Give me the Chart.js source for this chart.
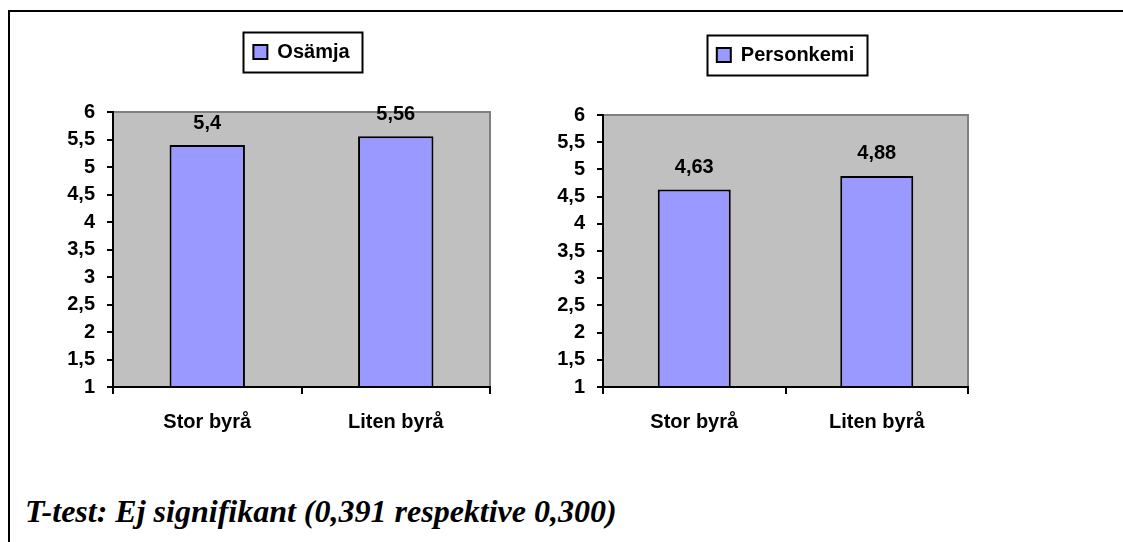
<!DOCTYPE html>
<html>
<head>
<meta charset="utf-8">
<script src="https://cdn.jsdelivr.net/npm/chart.js@4.4.1/dist/chart.umd.min.js"></script>
<style>
  html, body { margin: 0; padding: 0; background: #fff; overflow: hidden; }
  body { width: 1123px; height: 542px; position: relative; }
  .frame { position: absolute; left: 8px; top: 10px; width: 1300px; height: 700px;
           border-left: 2px solid #000; border-top: 2px solid #000; }
  .wrap { position: absolute; }
  .note { position: absolute; left: 25px; top: 493px; line-height: 1;
          font: italic bold 32px "Liberation Serif", "Times New Roman", serif; color: #000; white-space: nowrap; }
</style>
</head>
<body>
<div class="frame"></div>
<div class="wrap" style="left:60px; top:0px; width:435px; height:447px;"><canvas id="chartOsamja"></canvas></div>
<div class="wrap" style="left:550px; top:3px; width:423px; height:444px;"><canvas id="chartPersonkemi"></canvas></div>
<div class="note">T-test: Ej signifikant (0,391 respektive 0,300)</div>

<script>
// data
const categories = ['Stor byrå', 'Liten byrå'];
const osamjaValues = [5.4, 5.56];
const personkemiValues = [4.63, 4.88];
const yTicks = { min: 1, max: 6, step: 0.5 };

const FONT = '"Liberation Sans", Arial, sans-serif';
const SIZE = 20;
const fmt = v => String(v).replace('.', ',');

// grå plotyta med grå kant upptill och till höger
const plotFrame = {
    id: 'plotFrame',
    beforeDraw(chart) {
        const { ctx, chartArea: a } = chart;
        ctx.save();
        ctx.fillStyle = '#C0C0C0';
        ctx.fillRect(a.left, a.top, a.right - a.left, a.bottom - a.top);
        ctx.strokeStyle = '#808080';
        ctx.lineWidth = 2;
        ctx.beginPath();
        ctx.moveTo(a.left, a.top);
        ctx.lineTo(a.right, a.top);
        ctx.lineTo(a.right, a.bottom);
        ctx.stroke();
        ctx.restore();
    }
};

// värden ovanför staplarna
const valueLabels = {
    id: 'valueLabels',
    afterDatasetsDraw(chart) {
        const { ctx } = chart;
        const meta = chart.getDatasetMeta(0);
        const data = chart.data.datasets[0].data;
        ctx.save();
        ctx.font = 'bold ' + SIZE + 'px ' + FONT;
        ctx.fillStyle = '#000';
        ctx.textAlign = 'center';
        ctx.textBaseline = 'middle';
        meta.data.forEach((bar, i) => ctx.fillText(fmt(data[i]), bar.x, bar.y - 22));
        ctx.restore();
    }
};

// ram runt förklaringen + avstånd under den
const legendBox = {
    id: 'legendBox',
    beforeInit(chart) {
        const origFit = chart.legend.fit;
        chart.legend.fit = function () {
            origFit.call(this);
            this.height += 40;
        };
    },
    afterDraw(chart) {
        const boxes = chart.legend.legendHitBoxes;
        if (!boxes || !boxes.length) return;
        const b = boxes[0];
        const ctx = chart.ctx;
        ctx.save();
        ctx.strokeStyle = '#000';
        ctx.lineWidth = 2;
        ctx.strokeRect(Math.round(b.left - 10) + 0.5, Math.round(b.top - 10) + 0.5,
                       Math.round(b.width + 23), 40);
        ctx.restore();
    }
};

function drawBarChart(canvasId, label, values) {
    const ctx = document.getElementById(canvasId).getContext('2d');
    return new Chart(ctx, {
        type: 'bar',
        data: {
            labels: categories,
            datasets: [{
                label: label,
                data: values,
                base: yTicks.min,
                backgroundColor: '#9999FF',
                borderColor: '#000000',
                borderWidth: 2,
                categoryPercentage: 1,
                barPercentage: 0.4
            }]
        },
        options: {
            responsive: true,
            maintainAspectRatio: false,
            animation: false,
            layout: { padding: { left: 0, right: 5, top: 0, bottom: 0 } },
            plugins: {
                legend: {
                    display: true,
                    position: 'top',
                    fullSize: false,
                    labels: {
                        color: '#000',
                        font: { family: FONT, size: SIZE, weight: 'bold' },
                        boxWidth: 14,
                        boxHeight: 14,
                        padding: 42
                    }
                },
                title: { display: false },
                tooltip: { enabled: false }
            },
            scales: {
                x: {
                    offset: true,
                    grid: { display: true, offset: true, drawOnChartArea: false, drawTicks: true,
                            tickLength: 7, color: '#000', lineWidth: 2 },
                    border: { display: true, color: '#000', width: 2 },
                    ticks: { color: '#000', padding: 16, font: { family: FONT, size: SIZE, weight: 'bold' } },
                    afterFit: scale => { scale.height = 60; }
                },
                y: {
                    min: yTicks.min,
                    max: yTicks.max,
                    grid: { display: true, drawOnChartArea: false, drawTicks: true,
                            tickLength: 6, color: '#000', lineWidth: 2 },
                    border: { display: true, color: '#000', width: 2 },
                    ticks: {
                        stepSize: yTicks.step,
                        color: '#000',
                        padding: 12,
                        font: { family: FONT, size: SIZE, weight: 'bold' },
                        callback: v => fmt(v)
                    },
                    afterFit: scale => { scale.width = 53; }
                }
            }
        },
        plugins: [plotFrame, valueLabels, legendBox]
    });
}

drawBarChart('chartOsamja', 'Osämja', osamjaValues);
drawBarChart('chartPersonkemi', 'Personkemi', personkemiValues);
</script>
</body>
</html>
